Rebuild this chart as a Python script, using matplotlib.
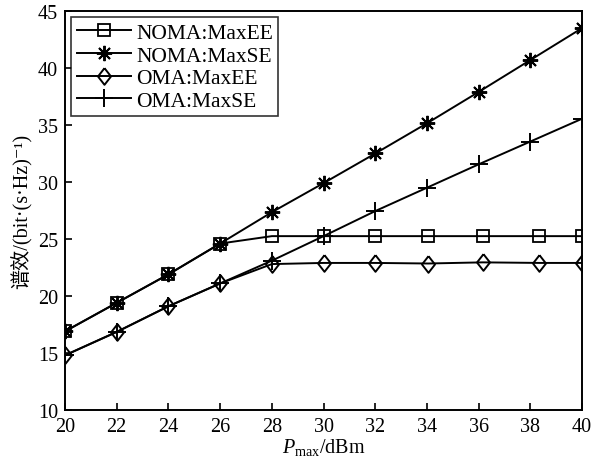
import matplotlib.pyplot as plt

plt.rcParams['font.family'] = ['Liberation Serif', 'Noto Sans CJK SC', 'DejaVu Sans']
plt.rcParams['mathtext.fontset'] = 'custom'
plt.rcParams['mathtext.rm'] = 'Liberation Serif'
plt.rcParams['mathtext.it'] = 'Liberation Serif:italic'

x_se = [20, 22, 24, 26, 28, 30, 32, 34, 36, 38, 40]
x_ee = [20, 22, 24, 26, 28, 30, 32, 34.05, 36.15, 38.35, 40]

noma_ee = [16.9, 19.4, 21.9, 24.6, 25.25, 25.25, 25.25, 25.25, 25.25, 25.25, 25.25]
noma_se = [16.9, 19.4, 21.9, 24.6, 27.35, 29.9, 32.5, 35.15, 37.9, 40.7, 43.5]
oma_ee = [14.8, 16.85, 19.1, 21.1, 22.8, 22.9, 22.9, 22.85, 22.95, 22.9, 22.9]
oma_se = [14.8, 16.85, 19.1, 21.1, 23.1, 25.25, 27.45, 29.5, 31.55, 33.55, 35.55]

diamond = [(0, 1), (0.78, 0), (0, -1), (-0.78, 0), (0, 1)]

fig = plt.figure(figsize=(6.02, 4.60), dpi=100)
ax = fig.add_axes([0.108, 0.1065, 0.859, 0.8675])

lw = 1.4
ax.plot(x_ee, noma_ee, color='black', linewidth=lw, marker='s', markersize=8,
        markerfacecolor='none', markeredgewidth=1.3, label='NOMA:MaxEE')
ax.plot(x_se, noma_se, color='black', linewidth=lw, marker=(8, 2, 0), markersize=11,
        markeredgewidth=1.4, label='NOMA:MaxSE')
ax.plot(x_ee, oma_ee, color='black', linewidth=lw, marker=diamond, markersize=12,
        markerfacecolor='none', markeredgewidth=1.4, label='OMA:MaxEE')
ax.plot(x_se, oma_se, color='black', linewidth=lw, marker='+', markersize=13,
        markeredgewidth=1.4, label='OMA:MaxSE')

ax.set_xlim(20, 40)
ax.set_ylim(10, 45)
ax.set_xticks(range(20, 41, 2))
ax.set_yticks(range(10, 46, 5))
ax.tick_params(direction='in', length=5, width=1.2, labelsize=14.5, pad=5,
               top=False, right=False)
for s in ax.spines.values():
    s.set_linewidth(1.4)

ax.set_xlabel(r'$P_{\rm max}$/dBm', fontsize=14.5, labelpad=0)
ax.set_ylabel('谱效/(bit·(s·Hz)⁻¹)', fontsize=14.5, labelpad=4)

leg = ax.legend(loc='upper left', fontsize=15.5, frameon=True, fancybox=False,
                edgecolor='black', borderpad=0.25, labelspacing=0.12,
                handlelength=2.5, handletextpad=0.25, borderaxespad=0.3)
leg.get_frame().set_linewidth(1.2)

fig.savefig('out.png', dpi=100)
